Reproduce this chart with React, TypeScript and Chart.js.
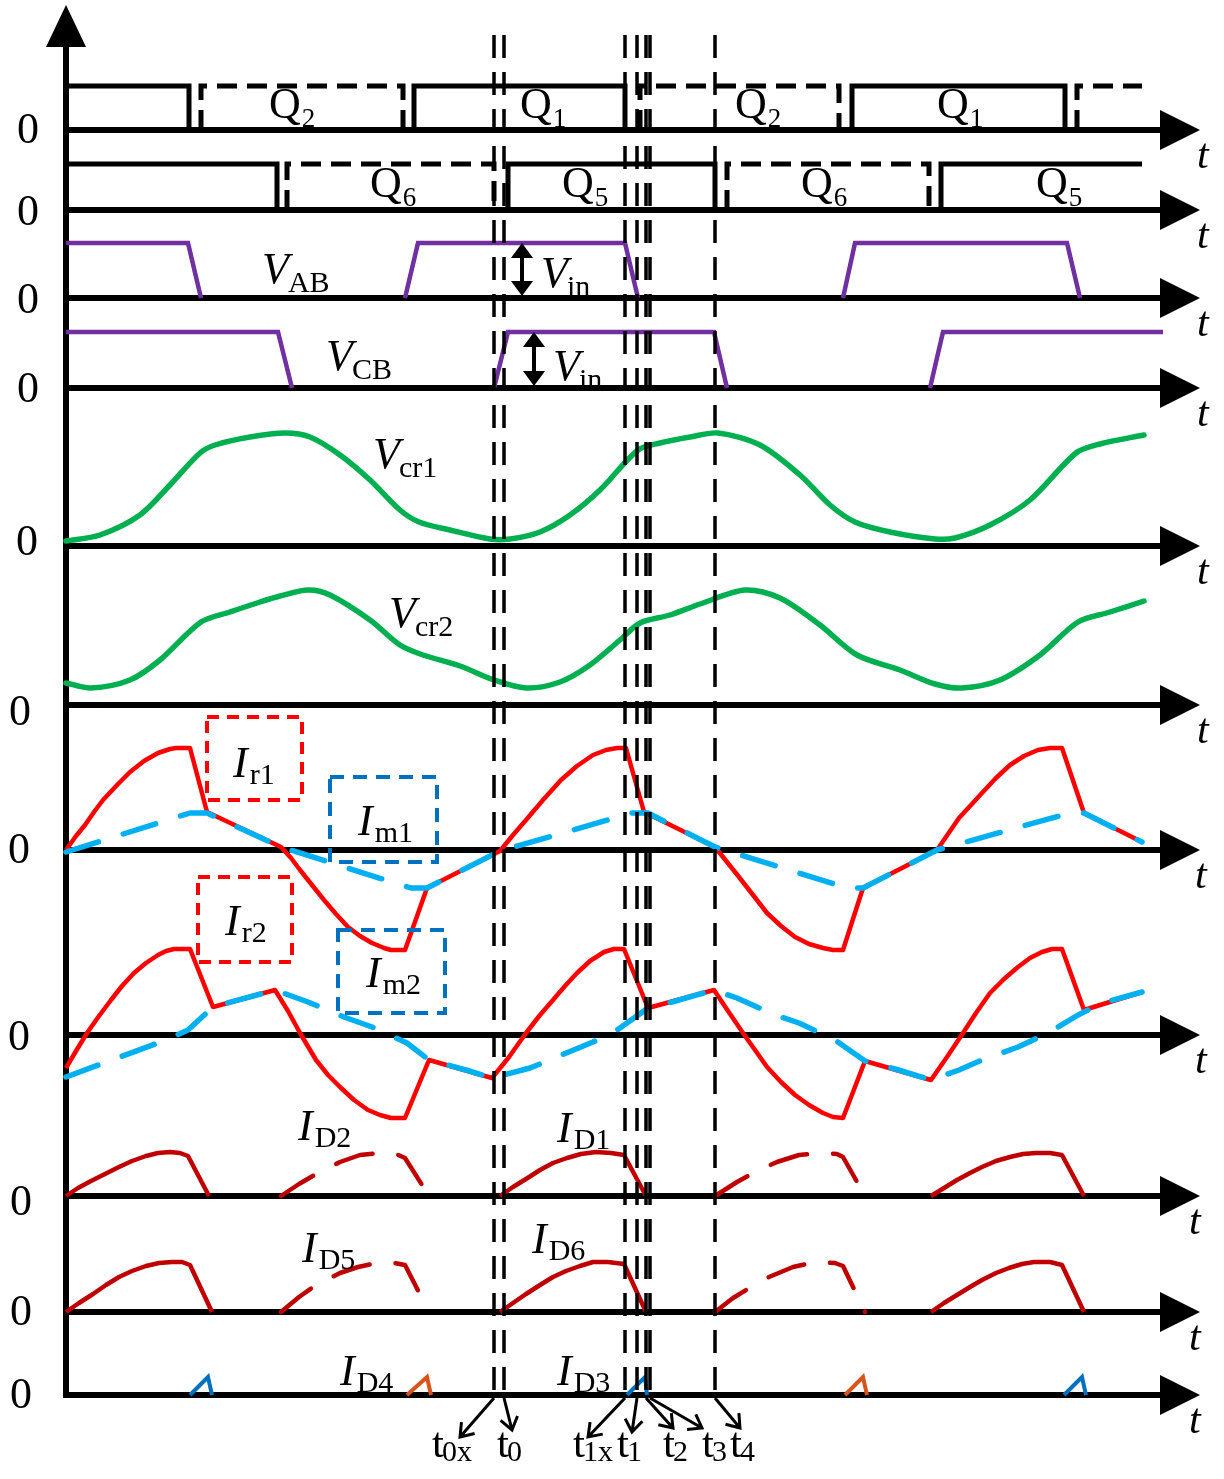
import React, { useEffect, useRef } from "react";
import { Chart, registerables } from "chart.js";

Chart.register(...registerables);

// ---------------- data (t: time in picture units from the vertical axis, v: height above the trace's own zero) -------------
const q1Pulses = [[0, 123], [348, 559], [786, 999]];
const q2Pulses = [[135, 337], [574, 773], [1011, 1076]];
const q5Pulses = [[0, 211], [442, 649], [875, 1076]];
const q6Pulses = [[221, 428], [661, 863]];
const gateHighQ12 = 44;
const gateHighQ56 = 46;
const GATE_OPEN_END = 1076;

const vABPulses = [[[0, 55], [122, 55], [135, 0]], [[339, 0], [352, 55], [559, 55], [572, 0]], [[777, 0], [789, 55], [1001, 55], [1014, 0]]];
const vCBPulses = [[[0, 56], [212, 56], [226, 0]], [[428, 0], [442, 56], [648, 56], [661, 0]], [[864, 0], [877, 56], [1097, 56]]];

const vCr1 = [[0, 5], [34, 11], [74, 31], [104, 61], [134, 93], [149, 101], [184, 109], [219, 113], [244, 109], [274, 91], [304, 66], [334, 36], [353, 24], [384, 16], [424, 7], [444, 7], [474, 14], [504, 31], [534, 56], [572, 96], [594, 103], [624, 109], [652, 113], [694, 101], [734, 71], [764, 41], [789, 24], [824, 14], [869, 7], [889, 8], [924, 21], [964, 46], [1010, 93], [1034, 102], [1078, 111]];
const vCr2 = [[0, 22], [25, 17], [64, 25], [94, 45], [135, 83], [164, 93], [194, 103], [214, 109], [242, 115], [264, 110], [304, 85], [334, 60], [357, 50], [394, 39], [428, 25], [460, 17], [494, 23], [524, 40], [554, 65], [574, 82], [604, 90], [634, 101], [679, 115], [714, 107], [754, 80], [791, 50], [834, 35], [869, 21], [896, 17], [934, 25], [974, 50], [1012, 83], [1044, 93], [1078, 104]];

const iR1 = [[0, 0], [10, 14], [19, 25], [28, 38], [37, 50], [52, 66], [64, 78], [78, 89], [92, 97], [104, 101], [110, 102], [124, 102], [141, 38], [215, 3],
  [225, -8], [234, -20], [246, -35], [258, -50], [270, -64], [282, -77], [294, -86], [306, -93], [318, -98], [325, -100], [339, -100], [361, -38], [434, -1],
  [447, 15], [460, 30], [477, 50], [495, 70], [511, 84], [527, 95], [540, 100], [551, 102], [560, 102], [578, 38], [649, 3],
  [661, -12], [673, -27], [687, -45], [701, -63], [715, -76], [729, -87], [743, -94], [757, -98], [767, -100], [777, -100], [797, -38], [871, 0],
  [882, 16], [893, 32], [905, 45], [916, 57], [930, 72], [944, 85], [958, 94], [972, 100], [984, 102], [996, 102], [1018, 37], [1076, 8]];
const iM1 = [[0, -2], [124, 37], [141, 37], [215, 3], [345, -38], [361, -38], [434, -1], [566, 37], [582, 37], [649, 3], [781, -38], [797, -38], [871, 0], [1004, 37], [1018, 37], [1076, 8]];

const iR2 = [[0, -33], [10, -16], [21, 2], [33, 19], [45, 35], [56, 49], [68, 62], [80, 72], [92, 80], [100, 84], [108, 86], [124, 86], [147, 28], [209, 45],
  [222, 24], [234, 2], [250, -25], [262, -40], [274, -52], [288, -65], [302, -75], [314, -80], [325, -83], [339, -83], [363, -25], [426, -43],
  [443, -22], [460, 2], [474, 20], [487, 35], [499, 49], [511, 62], [524, 74], [538, 83], [548, 86], [558, 86], [582, 27], [648, 45],
  [662, 24], [677, 2], [689, -15], [701, -32], [715, -47], [729, -60], [743, -70], [757, -78], [767, -82], [777, -83], [799, -26], [865, -45],
  [881, -22], [897, 2], [910, 22], [924, 42], [938, 56], [952, 68], [964, 77], [976, 83], [986, 86], [996, 86], [1018, 25], [1076, 43]];
const iM2 = [[0, -42], [100, -5], [122, 5], [147, 28], [209, 45], [242, 33], [278, 18], [306, 8], [341, -8], [363, -25], [400, -35], [426, -43], [464, -33], [527, -7], [551, 5], [582, 27], [606, 33], [648, 45], [671, 37], [709, 20], [733, 12], [769, -5], [799, -26], [829, -34], [865, -45], [893, -35], [916, -25], [952, -12], [984, 3], [1012, 20], [1036, 32], [1076, 43]];

const iD1Pulses = [
  [[0, 0], [12, 8], [25, 15], [39, 22], [53, 29], [66, 35], [80, 40], [92, 43], [104, 44], [114, 43], [122, 40], [143, 0]],
  [[434, 0], [447, 9], [460, 17], [474, 26], [487, 33], [501, 38], [515, 42], [530, 44], [545, 43], [558, 41], [580, 0]],
  [[865, 0], [878, 8], [891, 16], [904, 23], [916, 29], [930, 35], [944, 39], [957, 42], [970, 43], [984, 43], [996, 41], [1018, 0]],
];
const iD2Pulses = [
  [[215, 0], [233, 12], [252, 23], [274, 34], [294, 41], [315, 43], [330, 42], [339, 38], [363, 0]],
  [[649, 0], [660, 7], [671, 14], [691, 25], [711, 34], [733, 41], [755, 43], [771, 42], [777, 39], [799, 0]],
];
const iD6Pulses = [
  [[0, 0], [13, 9], [27, 18], [40, 27], [53, 35], [66, 41], [80, 46], [93, 49], [106, 50], [116, 50], [124, 47], [146, 0]],
  [[434, 0], [447, 9], [460, 18], [474, 27], [487, 35], [500, 41], [514, 46], [527, 50], [542, 50], [558, 48], [580, 0]],
  [[865, 0], [878, 9], [891, 17], [904, 25], [916, 32], [930, 39], [943, 44], [956, 48], [968, 50], [984, 50], [996, 47], [1018, 0]],
];
const iD5Pulses = [
  [[215, 0], [233, 15], [250, 27], [274, 39], [292, 45], [311, 49], [328, 49], [339, 47], [363, 0]],
  [[649, 0], [667, 14], [685, 25], [703, 35], [727, 45], [749, 50], [769, 49], [777, 46], [799, 0]],
];
const iD3Pulses = [[[124, 0], [142, 18], [146, 0]], [[561, 0], [579, 18], [581, 0]], [[998, 0], [1016, 18], [1020, 0]]];
const iD4Pulses = [[[341, 0], [361, 18], [365, 0]], [[779, 0], [797, 18], [801, 0]]];

const markerTimes = [428, 438, 559, 571, 580, 584, 649];
const markerSubs = ["0x", "0", "1x", "1", "2", "3", "4"];

// ---------------- layout & style (not data) ----------------
const W = 1224;
const H = 1479;
const SERIF = '"Liberation Serif", "Times New Roman", Times, serif';
const LANES: Record<string, number> = { q12: 130, q56: 210, vab: 298, vcb: 388, vcr1: 546, vcr2: 705, i1: 850, i2: 1035, d12: 1196, d56: 1312, d34: 1395 };
const LANE_ORDER = ["q12", "q56", "vab", "vcb", "vcr1", "vcr2", "i1", "i2", "d12", "d56", "d34"];
const ZERO_POS = [[28, -2], [28, 0], [28, 0], [28, -1], [27, -6], [20, 5], [19, -2], [19, 0], [21, 4], [21, -2], [21, -2]];
const T_LABEL_X = [1197, 1197, 1197, 1197, 1197, 1197, 1195, 1195, 1189, 1189, 1189];
const AXIS_END_T = 1094;
const ARROW_LEN = 40;
const MARKER_TOP = 35;
const MARKER_TIP = [[-34, 39], [8, 32], [-37, 39], [-5, 34], [27, 30], [52, 30], [25, 30]];
const MARKER_LABEL_DX = [-62, -7, -52, -20, 17, 52, 15];
const MARKER_LABEL_Y = 1457;

const LABELS = [
  { lane: "q12", t: 203, dy: -12, main: "Q", sub: "2", kind: "q" },
  { lane: "q12", t: 454, dy: -12, main: "Q", sub: "1", kind: "q" },
  { lane: "q12", t: 669, dy: -12, main: "Q", sub: "2", kind: "q" },
  { lane: "q12", t: 871, dy: -12, main: "Q", sub: "1", kind: "q" },
  { lane: "q56", t: 304, dy: -13, main: "Q", sub: "6", kind: "q" },
  { lane: "q56", t: 496, dy: -13, main: "Q", sub: "5", kind: "q" },
  { lane: "q56", t: 735, dy: -13, main: "Q", sub: "6", kind: "q" },
  { lane: "q56", t: 970, dy: -13, main: "Q", sub: "5", kind: "q" },
  { lane: "vab", t: 196, dy: -15, main: "V", sub: "AB", kind: "v" },
  { lane: "vab", t: 475, dy: -11, main: "V", sub: "in", kind: "v" },
  { lane: "vcb", t: 260, dy: -18, main: "V", sub: "CB", kind: "v" },
  { lane: "vcb", t: 487, dy: -8, main: "V", sub: "in", kind: "v" },
  { lane: "vcr1", t: 307, dy: -78, main: "V", sub: "cr1", kind: "v" },
  { lane: "vcr2", t: 323, dy: -78, main: "V", sub: "cr2", kind: "v" },
  { lane: "i1", t: 167, dy: -73, main: "I", sub: "r1", kind: "i" },
  { lane: "i1", t: 292, dy: -15, main: "I", sub: "m1", kind: "i" },
  { lane: "i2", t: 159, dy: -100, main: "I", sub: "r2", kind: "i" },
  { lane: "i2", t: 300, dy: -48, main: "I", sub: "m2", kind: "i" },
  { lane: "d12", t: 232, dy: -56, main: "I", sub: "D2", kind: "i" },
  { lane: "d12", t: 491, dy: -54, main: "I", sub: "D1", kind: "i" },
  { lane: "d56", t: 236, dy: -50, main: "I", sub: "D5", kind: "i" },
  { lane: "d56", t: 466, dy: -59, main: "I", sub: "D6", kind: "i" },
  { lane: "d34", t: 274, dy: -10, main: "I", sub: "D4", kind: "i" },
  { lane: "d34", t: 491, dy: -10, main: "I", sub: "D3", kind: "i" },
];
const LABEL_STYLE: Record<string, any> = {
  q: { size: 44, subSize: 27, italic: false, subDy: 9, gap: 1 },
  v: { size: 44, subSize: 30, italic: true, subDy: 9, gap: -1 },
  i: { size: 44, subSize: 30, italic: true, subDy: 7, gap: 2 },
  t: { size: 43, subSize: 30, italic: false, subDy: 4, gap: -2 },
};
const BOXES = [
  { lane: "i1", t0: 141, t1: 236, dy0: -133, dy1: -50, color: "#FF0000", dash: [12, 8] },
  { lane: "i1", t0: 264, t1: 371, dy0: -73, dy1: 12, color: "#0070C0", dash: [14, 9] },
  { lane: "i2", t0: 132, t1: 226, dy0: -158, dy1: -73, color: "#FF0000", dash: [12, 8] },
  { lane: "i2", t0: 272, t1: 379, dy0: -105, dy1: -22, color: "#0070C0", dash: [14, 9] },
];
const VIN_ARROWS = [{ lane: "vab", t: 456, high: 55 }, { lane: "vcb", t: 468, high: 56 }];

const RED = "#FF0000";
const LIGHT_BLUE = "#00B0F0";
const DARK_RED = "#C00000";
const GREEN = "#00B050";
const PURPLE = "#7030A0";
const BLUE = "#0070C0";
const ORANGE = "#D9541A";

// ---------------- helpers ----------------
const laneVal = (lane: string, v: number) => H - LANES[lane] + v;
const toPts = (arr: number[][], lane: string) => arr.map(([t, v]) => ({ x: t, y: laneVal(lane, v) }));
const joinPulses = (pulses: number[][][], lane: string) => {
  const out: any[] = [];
  pulses.forEach((p, i) => {
    if (i) out.push({ x: p[0][0], y: null });
    out.push(...toPts(p, lane));
  });
  return out;
};
const gatePts = (pulses: number[][], high: number, lane: string) => {
  const out: any[] = [];
  pulses.forEach(([on, off], i) => {
    if (i) out.push({ x: on, y: null });
    out.push({ x: on, y: laneVal(lane, 0) }, { x: on, y: laneVal(lane, high) }, { x: off, y: laneVal(lane, high) });
    if (off < GATE_OPEN_END) out.push({ x: off, y: laneVal(lane, 0) });
  });
  return out;
};
const line = (data: any[], color: string, width: number, extra: any = {}) => ({
  data,
  borderColor: color,
  borderWidth: width,
  pointRadius: 0,
  tension: 0,
  fill: false,
  spanGaps: false,
  borderJoinStyle: "miter",
  borderCapStyle: "butt",
  order: 5,
  ...extra,
});

function drawLabel(ctx: CanvasRenderingContext2D, x: number, y: number, main: string, sub: string, kind: string) {
  const st = LABEL_STYLE[kind];
  ctx.textAlign = "left";
  ctx.textBaseline = "alphabetic";
  ctx.font = `${st.italic ? "italic " : ""}${st.size}px ${SERIF}`;
  ctx.fillText(main, x, y);
  const w = ctx.measureText(main).width;
  ctx.font = `${st.subSize}px ${SERIF}`;
  ctx.fillText(sub, x + w + st.gap, y + st.subDy);
}

const decorPlugin = {
  id: "decor",
  beforeDatasetsDraw(chart: any) {
    const { ctx, scales } = chart;
    const X = (t: number) => scales.x.getPixelForValue(t);
    const Y = (lane: string, v = 0) => scales.y.getPixelForValue(laneVal(lane, v));
    const x0 = X(0);
    ctx.save();
    ctx.fillStyle = "#000";
    ctx.strokeStyle = "#000";
    ctx.lineWidth = 6;
    ctx.beginPath();
    ctx.moveTo(x0, Y("d34") + 3);
    ctx.lineTo(x0, 40);
    ctx.stroke();
    ctx.beginPath();
    ctx.moveTo(x0, 5);
    ctx.lineTo(x0 - 20, 47);
    ctx.lineTo(x0 + 20, 47);
    ctx.closePath();
    ctx.fill();
    const xe = X(AXIS_END_T);
    LANE_ORDER.forEach((lane, i) => {
      const yy = Y(lane);
      ctx.lineWidth = 6;
      ctx.beginPath();
      ctx.moveTo(x0 - 3, yy);
      ctx.lineTo(xe + 2, yy);
      ctx.stroke();
      ctx.beginPath();
      ctx.moveTo(xe + ARROW_LEN, yy);
      ctx.lineTo(xe, yy - 20);
      ctx.lineTo(xe, yy + 20);
      ctx.closePath();
      ctx.fill();
      ctx.font = `44px ${SERIF}`;
      ctx.textAlign = "center";
      ctx.textBaseline = "alphabetic";
      ctx.fillText("0", ZERO_POS[i][0], yy + ZERO_POS[i][1] + 15);
      ctx.font = `italic 42px ${SERIF}`;
      ctx.textAlign = "left";
      ctx.fillText("t", T_LABEL_X[i], yy + 38);
    });
    ctx.restore();
  },
  afterDatasetsDraw(chart: any) {
    const { ctx, scales } = chart;
    const X = (t: number) => scales.x.getPixelForValue(t);
    const Y = (lane: string, v = 0) => scales.y.getPixelForValue(laneVal(lane, v));
    const yb = Y("d34");
    ctx.save();
    ctx.fillStyle = "#000";
    ctx.strokeStyle = "#000";
    // vertical dashed marker lines
    ctx.lineWidth = 3.5;
    ctx.setLineDash([23, 14]);
    markerTimes.forEach((t) => {
      ctx.beginPath();
      ctx.moveTo(X(t), MARKER_TOP);
      ctx.lineTo(X(t), yb);
      ctx.stroke();
    });
    ctx.setLineDash([]);
    // marker arrows and labels
    ctx.lineWidth = 3;
    markerTimes.forEach((t, i) => {
      const sx = X(t);
      const sy = yb + 3;
      const ex = sx + MARKER_TIP[i][0];
      const ey = sy + MARKER_TIP[i][1];
      ctx.beginPath();
      ctx.moveTo(sx, sy);
      ctx.lineTo(ex, ey);
      const ang = Math.atan2(ey - sy, ex - sx);
      const a1 = ang + Math.PI - 0.62;
      const a2 = ang + Math.PI + 0.62;
      ctx.moveTo(ex + 15 * Math.cos(a1), ey + 15 * Math.sin(a1));
      ctx.lineTo(ex, ey);
      ctx.lineTo(ex + 15 * Math.cos(a2), ey + 15 * Math.sin(a2));
      ctx.stroke();
      drawLabel(ctx, sx + MARKER_LABEL_DX[i], MARKER_LABEL_Y, "t", markerSubs[i], "t");
    });
    // dashed boxes
    ctx.lineWidth = 4;
    BOXES.forEach((b) => {
      ctx.strokeStyle = b.color;
      ctx.setLineDash(b.dash);
      const xa = X(b.t0);
      const xb = X(b.t1);
      const ya = LANES[b.lane] + b.dy0;
      const yc = LANES[b.lane] + b.dy1;
      ctx.strokeRect(xa, ya, xb - xa, yc - ya);
    });
    ctx.setLineDash([]);
    // Vin double arrows
    ctx.strokeStyle = "#000";
    ctx.lineWidth = 4;
    VIN_ARROWS.forEach((a) => {
      const xx = X(a.t);
      const yTop = Y(a.lane, a.high);
      const yBot = Y(a.lane, 0) - 2;
      ctx.beginPath();
      ctx.moveTo(xx, yTop + 10);
      ctx.lineTo(xx, yBot - 10);
      ctx.stroke();
      ctx.beginPath();
      ctx.moveTo(xx, yTop);
      ctx.lineTo(xx - 11, yTop + 15);
      ctx.lineTo(xx + 11, yTop + 15);
      ctx.closePath();
      ctx.fill();
      ctx.beginPath();
      ctx.moveTo(xx, yBot);
      ctx.lineTo(xx - 11, yBot - 15);
      ctx.lineTo(xx + 11, yBot - 15);
      ctx.closePath();
      ctx.fill();
    });
    // trace labels
    LABELS.forEach((l) => drawLabel(ctx, X(l.t), LANES[l.lane] + l.dy, l.main, l.sub, l.kind));
    ctx.restore();
  },
};

export default function App() {
  const ref = useRef<HTMLCanvasElement | null>(null);
  useEffect(() => {
    if (!ref.current) return;
    const datasets: any[] = [
      line(gatePts(q1Pulses, gateHighQ12, "q12"), "#000", 5),
      line(gatePts(q2Pulses, gateHighQ12, "q12"), "#000", 5, { borderDash: [20, 10] }),
      line(gatePts(q5Pulses, gateHighQ56, "q56"), "#000", 5),
      line(gatePts(q6Pulses, gateHighQ56, "q56"), "#000", 5, { borderDash: [20, 10] }),
      line(joinPulses(vABPulses, "vab"), PURPLE, 4.5),
      line(joinPulses(vCBPulses, "vcb"), PURPLE, 4.5),
      line(toPts(vCr1, "vcr1"), GREEN, 5.5, { tension: 0.3, borderCapStyle: "round", borderJoinStyle: "round" }),
      line(toPts(vCr2, "vcr2"), GREEN, 5.5, { tension: 0.3, borderCapStyle: "round", borderJoinStyle: "round" }),
      line(toPts(iR1, "i1"), RED, 4.5, { order: 4, borderJoinStyle: "round" }),
      line(toPts(iM1, "i1"), LIGHT_BLUE, 5.5, { order: 2, borderDash: [34, 26], borderCapStyle: "round", borderJoinStyle: "round" }),
      line(toPts(iR2, "i2"), RED, 4.5, { order: 4, borderJoinStyle: "round" }),
      line(toPts(iM2, "i2"), LIGHT_BLUE, 5.5, { order: 2, borderDash: [34, 26], borderCapStyle: "round", borderJoinStyle: "round" }),
      line(joinPulses(iD1Pulses, "d12"), DARK_RED, 4.5, { borderJoinStyle: "round" }),
      line(joinPulses(iD2Pulses, "d12"), DARK_RED, 4.5, { borderDash: [38, 26], borderCapStyle: "round", borderJoinStyle: "round" }),
      line(joinPulses(iD6Pulses, "d56"), DARK_RED, 4.5, { borderJoinStyle: "round" }),
      line(joinPulses(iD5Pulses, "d56"), DARK_RED, 4.5, { borderDash: [38, 26], borderCapStyle: "round", borderJoinStyle: "round" }),
      line(joinPulses(iD3Pulses, "d34"), BLUE, 4),
      line(joinPulses(iD4Pulses, "d34"), ORANGE, 4),
    ];
    const chart = new Chart(ref.current, {
      type: "line",
      data: { datasets },
      options: {
        responsive: false,
        devicePixelRatio: 1,
        animation: false,
        events: [],
        layout: { padding: 0 },
        plugins: { legend: { display: false }, tooltip: { enabled: false } },
        elements: { point: { radius: 0 } },
        scales: {
          x: { type: "linear", min: -66, max: W - 66, display: false },
          y: { type: "linear", min: 0, max: H, display: false },
        },
      },
      plugins: [decorPlugin],
    } as any);
    return () => chart.destroy();
  }, []);
  return (
    <div style={{ position: "absolute", left: 0, top: 0, width: W, height: H, background: "#fff" }}>
      <canvas ref={ref} width={W} height={H} style={{ display: "block", width: W, height: H }} />
    </div>
  );
}
